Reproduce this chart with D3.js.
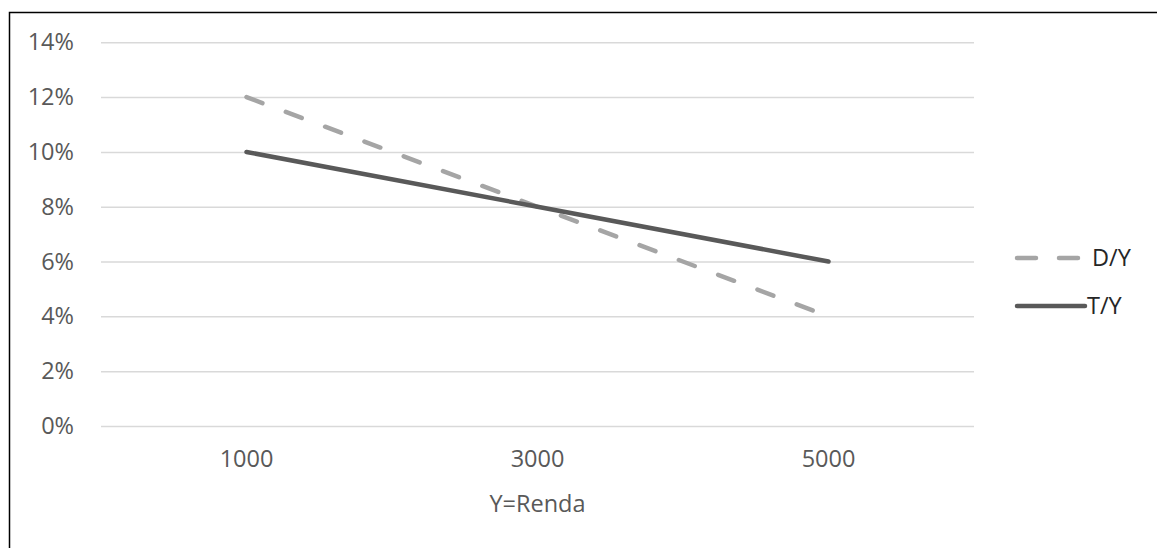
<!DOCTYPE html>
<html>
<head>
<meta charset="utf-8">
<script src="https://cdn.jsdelivr.net/npm/d3@7"></script>
<style>
  html, body { margin: 0; padding: 0; background: #fff; }
  svg { display: block; font-family: "Open Sans", "Noto Sans", sans-serif; }
</style>
</head>
<body>
<svg id="chart" width="1157" height="548"></svg>
<script>
const categories = ["1000", "3000", "5000"];
const seriesNames = ["D/Y", "T/Y"];
const dyValues = [0.12, 0.08, 0.04];
const tyValues = [0.10, 0.08, 0.06];
const yTicks = [0, 0.02, 0.04, 0.06, 0.08, 0.10, 0.12, 0.14];
const xTitle = "Y=Renda";

const svg = d3.select("#chart");
const W = 1157, H = 548;
const plot = { left: 101, right: 974, top: 42.3, bottom: 426 };
const FONT = '"Open Sans", "Noto Sans", sans-serif';
const FS = "23.5px";

svg.append("rect").attr("x", 0).attr("y", 0).attr("width", W).attr("height", H).attr("fill", "#fff");
svg.append("rect").attr("x", 9.5).attr("y", 12.5).attr("width", 1300).attr("height", 700)
  .attr("fill", "none").attr("stroke", "#000").attr("stroke-width", 1.5);

const x = d3.scaleBand().domain(categories).range([plot.left, plot.right]);
const y = d3.scaleLinear().domain([0, 0.14]).range([plot.bottom, plot.top]);

// gridlines + y labels
const yAxis = d3.axisLeft(y).tickValues(yTicks).tickFormat(d3.format(".0%"))
  .tickSize(-(plot.right - plot.left)).tickPadding(27);
const gy = svg.append("g").attr("transform", `translate(${plot.left},0)`).call(yAxis)
  .attr("font-family", FONT).attr("font-size", FS);
gy.select(".domain").remove();
gy.selectAll(".tick line").attr("stroke", "#d9d9d9").attr("stroke-width", 1.5);
gy.selectAll(".tick text").attr("fill", "#595959");

// x axis labels
const xAxis = d3.axisBottom(x).tickSize(0).tickPadding(24);
const gx = svg.append("g").attr("transform", `translate(0,${plot.bottom})`).call(xAxis)
  .attr("font-family", FONT).attr("font-size", FS);
gx.select(".domain").remove();
gx.selectAll(".tick text").attr("fill", "#595959");

svg.append("text").attr("x", x("3000") + x.bandwidth() / 2).attr("y", 512)
  .attr("text-anchor", "middle").attr("fill", "#595959").attr("font-size", FS)
  .attr("font-family", FONT).text(xTitle);

const line = d3.line().x((d, i) => x(categories[i]) + x.bandwidth() / 2).y(d => y(d));

const styles = [
  { name: seriesNames[0], values: dyValues, color: "#a5a5a5", dash: "17,25" },
  { name: seriesNames[1], values: tyValues, color: "#595959", dash: null }
];

styles.forEach(s => {
  svg.append("path").datum(s.values).attr("d", line)
    .attr("fill", "none").attr("stroke", s.color).attr("stroke-width", 4.5)
    .attr("stroke-linecap", "round").attr("stroke-linejoin", "round")
    .attr("stroke-dasharray", s.dash);
});

// legend
const legY = [258, 306];
styles.forEach((s, i) => {
  const g = svg.append("g");
  g.append("line").attr("x1", 1017).attr("x2", 1085).attr("y1", legY[i]).attr("y2", legY[i])
    .attr("stroke", s.color).attr("stroke-width", 4.5).attr("stroke-linecap", "round")
    .attr("stroke-dasharray", s.dash ? "19,23" : null);
  g.append("text").attr("x", i === 0 ? 1092 : 1087).attr("y", legY[i]).attr("dy", "0.35em")
    .attr("fill", "#262626").attr("font-size", FS).attr("font-family", FONT).text(s.name);
});
</script>
</body>
</html>
